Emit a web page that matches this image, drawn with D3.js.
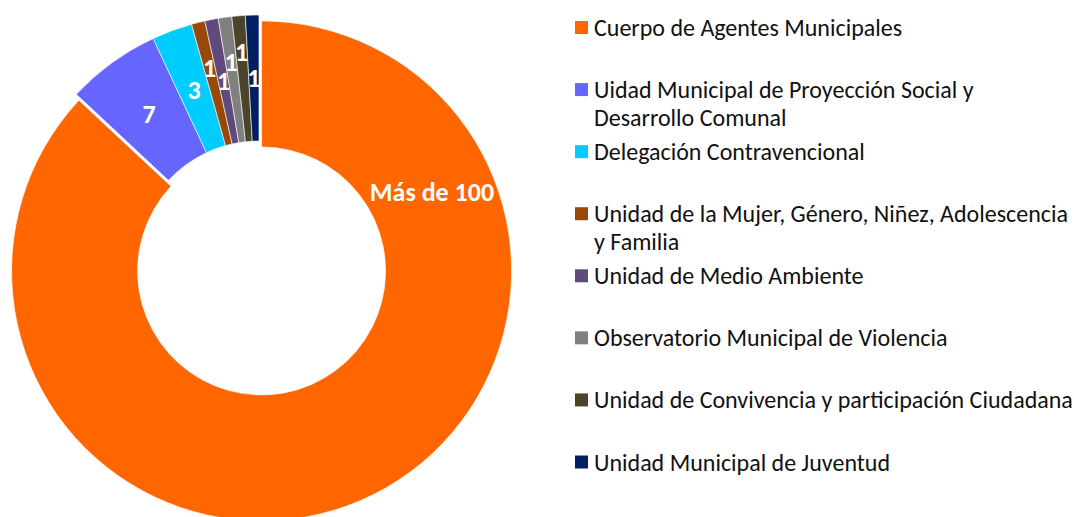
<!DOCTYPE html>
<html><head><meta charset="utf-8">
<script src="https://cdn.jsdelivr.net/npm/d3@7"></script>
<style>html,body{margin:0;padding:0;background:#fff;}svg{display:block;}</style>
</head><body>
<svg id="c" width="1074" height="517"></svg>
<script>
// ---- data ----
const categories = [
  "Cuerpo de Agentes Municipales",
  "Uidad Municipal de Proyección Social y\nDesarrollo Comunal",
  "Delegación Contravencional",
  "Unidad de la Mujer, Género, Niñez, Adolescencia\ny Familia",
  "Unidad de Medio Ambiente",
  "Observatorio Municipal de Violencia",
  "Unidad de Convivencia y participación Ciudadana",
  "Unidad Municipal de Juventud"
];
const values = [100, 7, 3, 1, 1, 1, 1, 1];
const valueLabels = ["Más de 100", "7", "3", "1", "1", "1", "1", "1"];
const colors = ["#FF6600", "#6666FF", "#00CCFF", "#984807", "#604A7B", "#808080", "#4A452A", "#002060"];

// ---- layout / style ----
const cx = 259, cy = 265, outerR = 250, innerR = 124, explode = 6.5;
const labelR = [188, 187, 187, 203, 187, 205, 214, 187];     // label radial distance
const labelAngleOverride = {0: 65 * Math.PI / 180};           // moved label of first slice
const fontFam = "Calibri, Carlito, 'Open Sans', sans-serif";

const svg = d3.select("#c");
const pie = d3.pie().sort(null).value(d => d.v);
const arcs = pie(values.map((v, i) => ({v, i})));
const arc = d3.arc().innerRadius(innerR).outerRadius(outerR);

const g = svg.append("g").attr("transform", `translate(${cx},${cy})`);
const sl = g.selectAll("g.s").data(arcs).join("g").attr("class", "s")
  .attr("transform", d => {
    if (d.index !== 0) return null;
    const a = (d.startAngle + d.endAngle) / 2;
    return `translate(${explode * Math.sin(a)},${-explode * Math.cos(a)})`;
  });
sl.append("path").attr("d", arc).attr("fill", (d, i) => colors[i])
  .attr("stroke", "#fff").attr("stroke-width", 0.6);
sl.append("text")
  .attr("x", d => { const a = labelAngleOverride[d.index] ?? (d.startAngle + d.endAngle) / 2; return labelR[d.index] * Math.sin(a); })
  .attr("y", d => { const a = labelAngleOverride[d.index] ?? (d.startAngle + d.endAngle) / 2; return -labelR[d.index] * Math.cos(a); })
  .attr("text-anchor", "middle").attr("dominant-baseline", "central")
  .attr("fill", "#fff").attr("font-weight", "bold").attr("font-family", fontFam)
  .attr("font-size", 26).text(d => valueLabels[d.index]);

// ---- legend ----
const lg = svg.append("g").attr("transform", "translate(575,0)");
const legendY = d3.scaleLinear().domain([0, categories.length - 1]).range([27.5, 462]);
categories.forEach((c, i) => {
  const y = legendY(i);
  lg.append("rect").attr("x", 0).attr("y", y - 6.5).attr("width", 13).attr("height", 13).attr("fill", colors[i]);
  const t = lg.append("text").attr("x", 19).attr("y", y).attr("font-family", fontFam)
    .attr("font-size", 24).attr("fill", "#111");
  c.split("\n").forEach((line, k) => {
    t.append("tspan").attr("x", 19).attr("y", y + k * 28).attr("dominant-baseline", "central").text(line);
  });
});
</script>
</body></html>
